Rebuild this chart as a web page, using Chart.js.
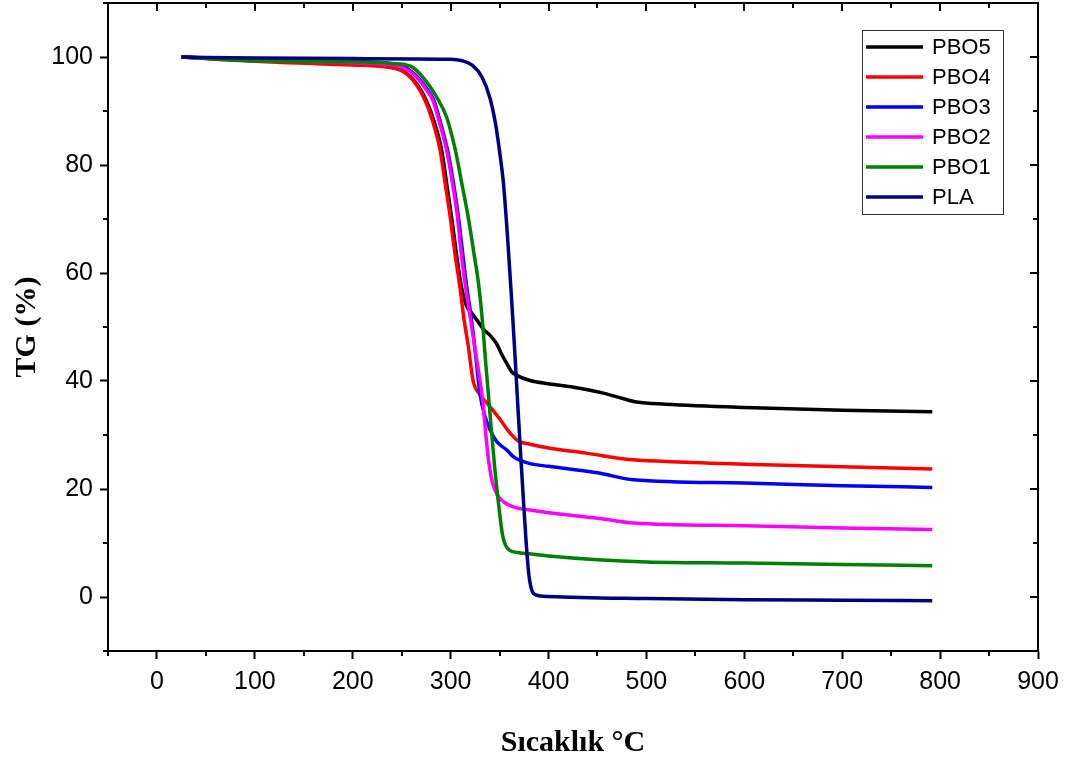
<!DOCTYPE html>
<html>
<head>
<meta charset="utf-8">
<script src="https://cdn.jsdelivr.net/npm/chart.js@4"></script>
<style>
  html, body { margin: 0; padding: 0; background: #fff; }
  #wrap { width: 1068px; height: 762px; position: relative; }
</style>
</head>
<body>
<div id="wrap"><canvas id="tg"></canvas></div>
<script>
// temperature (°C) / mass (%)
const pbo5T  = [25, 100, 200, 245, 263, 275, 284, 291, 296, 301, 305.5, 310.5, 316, 322, 328, 334, 340, 347, 352, 357.5, 362, 368, 381, 400, 430, 455, 475, 490, 520, 600, 700, 792];
const pbo5TG = [100, 99.3, 98.7, 97.9, 95.6, 92, 87.6, 82.6, 76.5, 70.3, 64.1, 58, 54, 52.5, 51, 49.5, 48.5, 46.9, 45, 43.2, 41.8, 41, 40.1, 39.5, 38.7, 37.8, 36.8, 36.1, 35.7, 35.1, 34.6, 34.3];

const pbo4T  = [25, 100, 200, 245, 262, 274, 282.5, 289.4, 294.5, 299.6, 304, 309, 314, 318, 323, 330, 340, 350, 361, 369, 381, 400, 440, 480, 520, 600, 700, 792];
const pbo4TG = [100, 99.2, 98.5, 97.8, 95.6, 91.9, 87.6, 82.6, 76.5, 70.3, 64.1, 58, 51, 46.5, 40, 37.5, 35.3, 33, 30.3, 28.9, 28.3, 27.6, 26.6, 25.5, 25.1, 24.6, 24.1, 23.7];

const pbo3T  = [25, 100, 200, 245, 262, 275, 283, 290, 297, 303, 308, 312, 316, 321, 326, 330, 335, 340.5, 347, 357.5, 364, 371, 381, 400, 450, 487, 600, 700, 792];
const pbo3TG = [100, 99.5, 99.1, 98.6, 97, 94.3, 91.9, 87.6, 82.6, 76.5, 70.3, 64.1, 58, 51.8, 44, 37.6, 33.5, 30.9, 28.8, 27.2, 26, 25.3, 24.7, 24.2, 23, 21.7, 21.1, 20.6, 20.3];

const pbo2T  = [25, 100, 200, 245, 262, 275, 282, 289, 296, 302, 307, 310.5, 314.8, 320, 327, 333, 336, 339, 343, 348, 355, 364, 381, 400, 450, 487, 600, 700, 792];
const pbo2TG = [100, 99.4, 99, 98.4, 96.8, 94, 91.9, 87.6, 82.6, 76.5, 70.3, 64.1, 58, 51.8, 43.5, 36, 30, 25, 21, 18.8, 17.5, 16.7, 16.1, 15.6, 14.6, 13.7, 13.2, 12.8, 12.5];

const pbo1T  = [25, 100, 200, 240, 259, 272, 286, 296, 305, 311.5, 318, 323.5, 328.5, 332, 336, 340.5, 345, 350.5, 353, 356, 360, 370, 380, 400, 450, 500, 600, 700, 792];
const pbo1TG = [100, 99.3, 99.1, 98.8, 98.3, 96.2, 92.5, 88.8, 82.6, 76.5, 70.3, 64, 58, 52, 43, 33.3, 24, 14.8, 11.5, 9.6, 8.7, 8.2, 8, 7.6, 6.9, 6.5, 6.3, 6, 5.8];

const plaT  = [25, 100, 200, 300, 312, 322, 332, 340, 346, 350, 354, 358, 362, 365, 368, 371, 374, 377, 380, 383, 387, 400, 500, 600, 700, 792];
const plaTG = [100, 99.8, 99.7, 99.6, 99.3, 98.5, 96.3, 92.5, 87.5, 82.5, 76.5, 67, 56, 47, 37.5, 28, 19, 10.5, 4, 1.2, 0.4, 0.1, -0.3, -0.5, -0.6, -0.7];

const seriesNames  = ['PBO5', 'PBO4', 'PBO3', 'PBO2', 'PBO1', 'PLA'];
const seriesColors = ['#000000', '#ff0000', '#0000ff', '#ff00ff', '#008000', '#000080'];
const seriesT  = [pbo5T, pbo4T, pbo3T, pbo2T, pbo1T, plaT];
const seriesTG = [pbo5TG, pbo4TG, pbo3TG, pbo2TG, pbo1TG, plaTG];

const xLabels = [0, 100, 200, 300, 400, 500, 600, 700, 800, 900];
const yLabels = [0, 20, 40, 60, 80, 100];

const tickFont = { family: 'Liberation Sans, Arial, sans-serif', size: 25 };
const titleFont = { family: 'Liberation Serif, Times New Roman, serif', size: 30, weight: 'bold' };

const toPoints = (ts, vs) => ts.map((t, i) => ({ x: t, y: vs[i] }));

// box round the plot with inward ticks on top/right, short minor ticks
const framePlugin = {
  id: 'frame',
  afterDraw(chart) {
    const { ctx, chartArea: a, scales: { x, y } } = chart;
    ctx.save();
    ctx.strokeStyle = '#000';
    ctx.lineWidth = 2;
    ctx.beginPath();
    ctx.moveTo(a.left, a.top);
    ctx.lineTo(a.right, a.top);
    ctx.lineTo(a.right, a.bottom);
    ctx.stroke();

    ctx.beginPath();
    x.ticks.forEach(t => {
      const px = Math.round(x.getPixelForValue(t.value));
      const major = xLabels.includes(t.value);
      if (!major) {
        ctx.moveTo(px, a.bottom);
        ctx.lineTo(px, a.bottom + 5);
      }
      ctx.moveTo(px, a.top);
      ctx.lineTo(px, a.top + (major ? 8 : 5));
    });
    y.ticks.forEach(t => {
      const py = Math.round(y.getPixelForValue(t.value));
      const major = yLabels.includes(t.value);
      if (!major) {
        ctx.moveTo(a.left, py);
        ctx.lineTo(a.left - 5, py);
      }
      ctx.moveTo(a.right, py);
      ctx.lineTo(a.right - (major ? 8 : 5), py);
    });
    ctx.stroke();
    ctx.restore();
  }
};

// boxed legend in the upper right of the plot
const legendPlugin = {
  id: 'boxLegend',
  afterDraw(chart) {
    const { ctx, chartArea: a } = chart;
    const right = a.right - 35, top = a.top + 27;
    const left = right - 141, h = 184;
    ctx.save();
    ctx.strokeStyle = '#333';
    ctx.lineWidth = 1;
    ctx.strokeRect(left + 0.5, top + 0.5, 141, h);
    ctx.font = '22px Liberation Sans, Arial, sans-serif';
    ctx.textBaseline = 'middle';
    chart.data.datasets.forEach((ds, i) => {
      const cy = top + 17 + i * 30;
      ctx.strokeStyle = ds.borderColor;
      ctx.lineWidth = 3.5;
      ctx.beginPath();
      ctx.moveTo(left + 4, cy);
      ctx.lineTo(left + 61, cy);
      ctx.stroke();
      ctx.fillStyle = '#000';
      ctx.fillText(ds.label, left + 70, cy + 1);
    });
    ctx.restore();
  }
};

new Chart(document.getElementById('tg'), {
  type: 'scatter',
  data: {
    datasets: seriesNames.map((name, i) => ({
      label: name,
      data: toPoints(seriesT[i], seriesTG[i]),
      borderColor: seriesColors[i],
      backgroundColor: seriesColors[i],
      borderWidth: 3.5,
      showLine: true,
      pointRadius: 0,
      cubicInterpolationMode: 'monotone',
      order: seriesNames.length - i
    }))
  },
  options: {
    responsive: true,
    maintainAspectRatio: false,
    animation: false,
    layout: { padding: { top: 3, right: 30, left: 0, bottom: 0 } },
    plugins: {
      legend: { display: false },
      tooltip: { enabled: false }
    },
    scales: {
      x: {
        type: 'linear',
        min: -50,
        max: 900,
        afterFit: s => { s.height = 111; s.paddingLeft = 0; s.paddingRight = 0; },
        ticks: {
          stepSize: 50,
          autoSkip: false,
          maxRotation: 0,
          padding: 8,
          color: '#000',
          font: tickFont,
          callback: v => (xLabels.includes(v) ? String(v) : '')
        },
        grid: {
          drawOnChartArea: false,
          tickLength: 8,
          tickWidth: 2,
          tickColor: c => (xLabels.includes(c.tick.value) ? '#000' : 'rgba(0,0,0,0)')
        },
        border: { display: true, color: '#000', width: 2 },
        title: {
          display: true,
          text: 'Sıcaklık °C',
          color: '#000',
          font: titleFont,
          padding: { top: 0, bottom: 1 }
        }
      },
      y: {
        type: 'linear',
        min: -10,
        max: 110,
        afterFit: s => { s.width = 108; s.paddingTop = 0; s.paddingBottom = 0; },
        ticks: {
          stepSize: 10,
          autoSkip: false,
          padding: 7,
          color: '#000',
          font: tickFont,
          callback: v => (yLabels.includes(v) ? String(v) : '')
        },
        grid: {
          drawOnChartArea: false,
          tickLength: 8,
          tickWidth: 2,
          tickColor: c => (yLabels.includes(c.tick.value) ? '#000' : 'rgba(0,0,0,0)')
        },
        border: { display: true, color: '#000', width: 2 },
        title: {
          display: true,
          text: 'TG (%)',
          color: '#000',
          font: titleFont,
          padding: { top: 9, bottom: 0 }
        }
      }
    }
  },
  plugins: [framePlugin, legendPlugin]
});
</script>
</body>
</html>
